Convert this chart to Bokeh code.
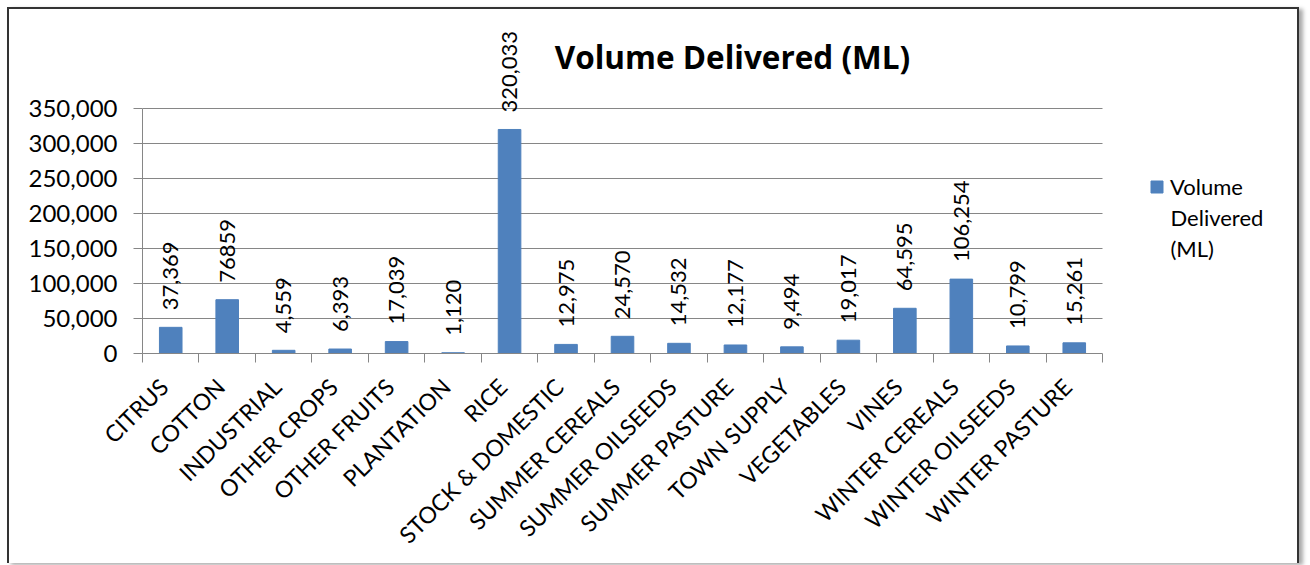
import math
from bokeh.plotting import figure
from bokeh.models import (Range1d, FixedTicker, NumeralTickFormatter, Label,
                          Legend, LegendItem, ColumnDataSource, LinearAxis)
from bokeh.core.properties import value
from bokeh.embed import file_html
from bokeh.resources import INLINE

categories = ["CITRUS", "COTTON", "INDUSTRIAL", "OTHER CROPS", "OTHER FRUITS",
              "PLANTATION", "RICE", "STOCK & DOMESTIC", "SUMMER CEREALS",
              "SUMMER OILSEEDS", "SUMMER PASTURE", "TOWN SUPPLY", "VEGETABLES",
              "VINES", "WINTER CEREALS", "WINTER OILSEEDS", "WINTER PASTURE"]
volumes = [37369, 76859, 4559, 6393, 17039, 1120, 320033, 12975, 24570,
           14532, 12177, 9494, 19017, 64595, 106254, 10799, 15261]
value_labels = ["37,369", "76859", "4,559", "6,393", "17,039", "1,120",
                "320,033", "12,975", "24,570", "14,532", "12,177", "9,494",
                "19,017", "64,595", "106,254", "10,799", "15,261"]
y_ticks = [0, 50000, 100000, 150000, 200000, 250000, 300000, 350000]
y_max = 350000
legend_lines = ["Volume", "Delivered", "(ML)"]
title_text = "Volume Delivered (ML)"

FONT = "Lato"
GRID = "#868686"
BAR = "#4F81BD"

# layout (pixels)
W, H = 1292, 556
LEFT, BOTTOM = 133, 212          # frame borders
CAT_W = 960                      # pixel width of the category area
VAL_H = 245                      # pixel height of 0..350,000
LABEL_SHIFT_PX = 7               # category labels sit slightly left

n = len(categories)
centers = [i + 0.5 for i in range(n)]
bounds = list(range(n + 1))
frame_w = W - LEFT
frame_h = H - BOTTOM
x_end = n * frame_w / CAT_W
y_end = y_max * frame_h / VAL_H
shift = LABEL_SHIFT_PX * n / CAT_W

src = ColumnDataSource(dict(x=centers, top=volumes, lab=value_labels))

p = figure(width=W, height=H, output_backend="svg", toolbar_location=None,
           x_range=Range1d(0, x_end), y_range=Range1d(0, y_end),
           min_border_left=LEFT, min_border_right=0, min_border_top=0,
           min_border_bottom=BOTTOM)
p.extra_x_ranges = {"labels": Range1d(shift, x_end + shift)}
p.styles = {"border-top": "2px solid #333", "border-left": "2px solid #333",
            "border-right": "2px solid #333", "margin-left": "7px",
            "margin-top": "7px", "box-shadow": "4px 2px 4px #aaa"}
p.outline_line_color = None
p.xgrid.grid_line_color = None
p.ygrid.grid_line_color = GRID
p.ygrid.grid_line_width = 1
p.ygrid.cross_bounds = (0, n)
p.ygrid.bounds = (0, y_max)

bars = p.vbar(x="x", top="top", width=0.4, bottom=0, source=src,
              fill_color=BAR, line_color=BAR)

p.text(x="x", y="top", text="lab", source=src, angle=math.pi / 2,
       text_align="left", text_baseline="middle", y_offset=-17,
       text_font=value(FONT), text_font_size="22px", text_color="black")

# axis line + tick marks between categories
xa = p.xaxis[0]
xa.bounds = (0, n)
xa.ticker = FixedTicker(ticks=[], minor_ticks=bounds)
xa.major_tick_out = 0
xa.major_tick_in = 0
xa.minor_tick_out = 9
xa.minor_tick_in = 0
xa.minor_tick_line_color = GRID
xa.axis_line_color = GRID
xa.major_label_text_font_size = "1px"
xa.major_label_standoff = 0

# category labels
la = LinearAxis(x_range_name="labels")
la.ticker = FixedTicker(ticks=centers)
la.major_label_overrides = {c: cat for c, cat in zip(centers, categories)}
la.axis_line_color = None
la.major_tick_line_color = None
la.minor_tick_line_color = None
la.major_tick_out = 0
la.major_tick_in = 0
la.major_label_orientation = math.pi / 4
la.major_label_text_font = FONT
la.major_label_text_font_size = "23px"
la.major_label_text_color = "black"
la.major_label_text_align = "right"
la.major_label_text_baseline = "top"
la.major_label_standoff = 20
p.add_layout(la, "below")

ya = p.yaxis[0]
ya.bounds = (0, y_max)
ya.ticker = FixedTicker(ticks=y_ticks)
ya.formatter = NumeralTickFormatter(format="0,0")
ya.major_tick_out = 9
ya.major_tick_in = 0
ya.minor_tick_line_color = None
ya.major_tick_line_color = GRID
ya.axis_line_color = GRID
ya.major_label_text_font = FONT
ya.major_label_text_font_size = "24px"
ya.major_label_text_color = "black"
ya.major_label_standoff = 16

p.add_layout(Label(x=590, y=297, x_units="screen", y_units="screen",
                   text=title_text, text_align="center", text_baseline="middle",
                   text_font="Open Sans", text_font_style="bold",
                   text_font_size="31.5px", text_color="black"))

legend = Legend(items=[LegendItem(label=legend_lines[0], renderers=[bars])],
                location=(1007, 153), glyph_width=15, glyph_height=15,
                label_height=24, label_text_font=FONT, label_text_color="black",
                label_text_font_size="22px", label_standoff=6,
                border_line_color=None, background_fill_alpha=0,
                margin=0, padding=0)
p.add_layout(legend)
for line, ly in zip(legend_lines[1:], [136, 105]):
    p.add_layout(Label(x=1028, y=ly, x_units="screen", y_units="screen",
                       text=line, text_align="left", text_baseline="middle",
                       text_font=FONT, text_font_size="22px",
                       text_color="black"))

open("out.html", "w").write(file_html(p, INLINE))
